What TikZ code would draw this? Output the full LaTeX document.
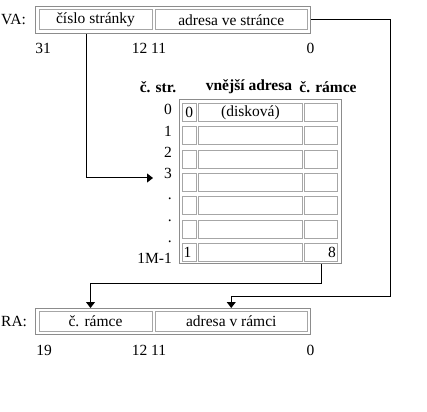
\documentclass[tikz,border=0pt]{standalone}
\usepackage{fontspec}
\setmainfont{Liberation Serif}
\usetikzlibrary{arrows.meta, positioning, calc}

\begin{document}
\begin{tikzpicture}[x=1pt,y=-1pt,
  font=\fontsize{15.5}{18}\selectfont,
  frame/.style={draw=black!45, line width=1pt, inner sep=0pt, anchor=north west},
  cell/.style={draw=black!35, line width=1pt, inner sep=0pt, anchor=north west, minimum height=18pt},
  conn/.style={line width=1pt, -{Triangle[width=9pt,length=6pt]}},
  lbl/.style={inner sep=0pt}]
  \useasboundingbox (0,0) rectangle (427,411);

  % virtual address
  \node[lbl, anchor=west] (vaLbl) at (1,19.5) {VA:};
  \node[frame, minimum width=275pt, minimum height=27pt] (vaBox) at (35,6) {};
  \node[cell, minimum width=113pt, minimum height=20pt] (vaPage) at (38.5,9.5) {číslo stránky};
  \node[cell, minimum width=152.5pt, minimum height=20pt] (vaOff) at (154.5,9.5) {adresa ve stránce};
  \node[lbl] (va31) at (43,48) {31};
  \node[lbl] (va12) at (149,48) {12 11};
  \node[lbl] (va0) at (310.5,48) {0};

  % page table
  \node[lbl] (hStr) at (158,87) {\bfseries č. str.};
  \node[lbl] (hAdr) at (249,87) {\bfseries vnější adresa};
  \node[lbl] (hRam) at (328,87) {\bfseries č. rámce};
  \node[frame, minimum width=162pt, minimum height=164pt] (ptab) at (179,99) {};
  \foreach \i in {0,...,6} {
    \node[cell, minimum width=14.5pt] (r\i a) at (181.5,103+23.3*\i) {};
    \node[cell, minimum width=104pt] (r\i b) at (198,103+23.3*\i) {};
    \node[cell, minimum width=33pt] (r\i c) at (304,103+23.3*\i) {};
  }
  \foreach \t [count=\i from 0] in {0,1,2,3,.,.,.,1M-1}
    \node[lbl, anchor=base east] (lbl\i) at (172,115+21.2*\i) {\t};
  \node[lbl] at (r0a) {0};
  \node[lbl] at (r0b) {(disková)};
  \node[lbl, anchor=west] at ($(r6a.west)+(2,0)$) {1};
  \node[lbl, anchor=east] at ($(r6c.east)+(-2,0)$) {8};

  % real address
  \node[lbl, anchor=west] (raLbl) at (1,321) {RA:};
  \node[frame, minimum width=275pt, minimum height=26pt] (raBox) at (35,308) {};
  \node[cell, minimum width=113pt, minimum height=20pt] (raFrm) at (38.5,311) {č. rámce};
  \node[cell, minimum width=152.5pt, minimum height=20pt] (raOff) at (154.5,311) {adresa v rámci};
  \node[lbl] (ra19) at (44,350) {19};
  \node[lbl] (ra12) at (149,350) {12 11};
  \node[lbl] (ra0) at (310.5,350) {0};

  \coordinate (bendA) at (86,178);
  \coordinate (tipA) at (153,178);
  \coordinate (bendB) at (390,296);
  \coordinate (bendC) at (90.5,283);
  \draw[conn] (bendA |- vaBox.south) -- (bendA) -- (tipA);
  \draw[conn] (vaBox.east) -| (bendB) -| (raOff.north |- raBox.north);
  \draw[conn] (r6c.south |- ptab.south) |- (bendC) -- (bendC |- raBox.north);
\end{tikzpicture}
\end{document}
